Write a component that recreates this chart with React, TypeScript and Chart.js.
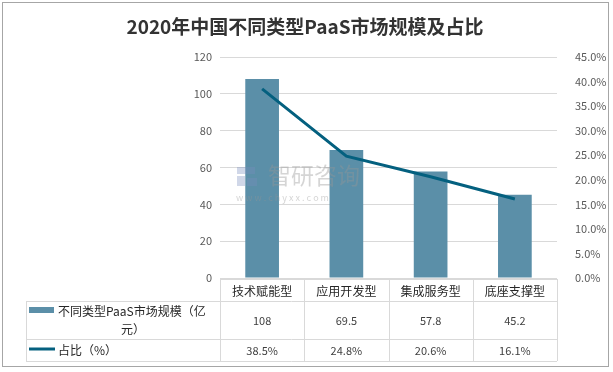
import React, { useEffect, useRef } from "react";
import { Chart, registerables } from "chart.js";

Chart.register(...registerables);

const title = "2020年中国不同类型PaaS市场规模及占比";
const categories = ["技术赋能型", "应用开发型", "集成服务型", "底座支撑型"];
const scaleValues = [108, 69.5, 57.8, 45.2];
const shareValues = [38.5, 24.8, 20.6, 16.1];
const barLabel = "不同类型PaaS市场规模（亿元）";
const lineLabel = "占比（%）";

const BAR_COLOR = "#5b8fa8";
const LINE_COLOR = "#04607f";
const GRID = "#d9d9d9";
const FONT = "'Noto Sans CJK SC', 'Noto Sans', sans-serif";

const overlay = {
  id: "overlay",
  afterDraw(chart: any) {
    const ctx = chart.ctx as CanvasRenderingContext2D;
    const xs = chart.scales.x;
    const area = chart.chartArea;
    ctx.save();
    // outer border
    ctx.strokeStyle = "#a6a6a6";
    ctx.lineWidth = 1;
    ctx.strokeRect(2.5, 2.5, 606, 364);
    // title
    ctx.fillStyle = "#333333";
    ctx.font = `bold 19px ${FONT}`;
    ctx.textAlign = "center";
    ctx.textBaseline = "middle";
    ctx.fillText(title, 305, 27);

    // watermark
    ctx.fillStyle = "rgba(150,150,150,0.4)";
    ctx.font = `23px ${FONT}`;
    ctx.textAlign = "left";
    ctx.fillText("智研咨询", 268, 175);
    ctx.font = `9px ${FONT}`;
    ctx.fillText("w w w . c h y x x . c o m", 236, 198);
    ctx.fillStyle = "rgba(120,140,190,0.35)";
    ctx.fillRect(237, 167, 18, 7);
    ctx.fillRect(237, 176, 8, 10);
    ctx.fillRect(247, 178, 10, 8);

    // table
    const n = categories.length;
    const left = area.left;
    const right = area.right;
    const colW = (right - left) / n;
    const tableLeft = 26;
    const r0 = 279, r1 = 301, r2 = 339, r3 = 361;
    ctx.strokeStyle = GRID;
    ctx.lineWidth = 1;
    ctx.beginPath();
    ctx.moveTo(left, r0 + 0.5); ctx.lineTo(right, r0 + 0.5);
    ctx.moveTo(tableLeft, r1 + 0.5); ctx.lineTo(right, r1 + 0.5);
    ctx.moveTo(tableLeft, r2 + 0.5); ctx.lineTo(right, r2 + 0.5);
    ctx.moveTo(tableLeft, r3 + 0.5); ctx.lineTo(right, r3 + 0.5);
    ctx.moveTo(tableLeft + 0.5, r1); ctx.lineTo(tableLeft + 0.5, r3);
    for (let i = 0; i <= n; i++) {
      const x = Math.round(left + colW * i) + 0.5;
      ctx.moveTo(x, r0); ctx.lineTo(x, r3);
    }
    ctx.stroke();

    ctx.textAlign = "center";
    ctx.textBaseline = "middle";
    for (let i = 0; i < n; i++) {
      const cx = xs.getPixelForValue(i);
      ctx.fillStyle = "#262626";
      ctx.font = `12px ${FONT}`;
      ctx.fillText(categories[i], cx, (r0 + r1) / 2 + 1);
      ctx.fillStyle = "#404040";
      ctx.font = `11px ${FONT}`;
      ctx.fillText(String(scaleValues[i]), cx, (r1 + r2) / 2 + 1);
      ctx.fillText(shareValues[i].toFixed(1) + "%", cx, (r2 + r3) / 2 + 1);
    }
    // legend keys
    ctx.fillStyle = BAR_COLOR;
    ctx.fillRect(29, 307, 25, 6);
    ctx.strokeStyle = LINE_COLOR;
    ctx.lineWidth = 3;
    ctx.beginPath();
    ctx.moveTo(29, 349); ctx.lineTo(55, 349);
    ctx.stroke();
    ctx.fillStyle = "#262626";
    ctx.font = `12px ${FONT}`;
    ctx.textAlign = "left";
    ctx.fillText(barLabel.slice(0, 14), 58, 311);
    ctx.textAlign = "center";
    ctx.fillText(barLabel.slice(14), 133, 329);
    ctx.textAlign = "left";
    ctx.fillText(lineLabel, 58, 350);
    ctx.restore();
  },
};

export default function App() {
  const ref = useRef<HTMLCanvasElement>(null);
  useEffect(() => {
    document.body.style.margin = "0";
    const chart = new Chart(ref.current!, {
      type: "bar",
      data: {
        labels: categories,
        datasets: [
          {
            type: "line",
            label: lineLabel,
            data: shareValues,
            borderColor: LINE_COLOR,
            backgroundColor: LINE_COLOR,
            borderWidth: 3,
            pointRadius: 0,
            yAxisID: "y1",
            order: 0,
          } as any,
          {
            type: "bar",
            label: barLabel,
            data: scaleValues,
            backgroundColor: BAR_COLOR,
            categoryPercentage: 1,
            barPercentage: 0.4,
            yAxisID: "y",
            order: 1,
          },
        ],
      },
      options: {
        animation: false,
        responsive: false,
        layout: { padding: { left: 190, right: 6, top: 57, bottom: 94 } },
        plugins: { legend: { display: false }, tooltip: { enabled: false } },
        scales: {
          x: { display: false },
          y: {
            position: "left",
            min: 0,
            max: 120,
            ticks: { stepSize: 20, color: "#595959", font: { size: 11, family: FONT }, padding: 8 },
            grid: { color: GRID, drawTicks: false },
            border: { display: false },
            afterFit: (s: any) => { s.width = 30; },
          },
          y1: {
            position: "right",
            min: 0,
            max: 45,
            ticks: {
              stepSize: 5,
              color: "#595959",
              font: { size: 11, family: FONT },
              padding: 10,
              callback: (v: any) => Number(v).toFixed(1) + "%",
            },
            grid: { display: false },
            border: { display: false },
            afterFit: (s: any) => { s.width = 50; },
          },
        },
      },
      plugins: [overlay],
    });
    return () => chart.destroy();
  }, []);
  return (
    <div style={{ width: 613, height: 372, background: "#fff" }}>
      <canvas ref={ref} width={613} height={372} />
    </div>
  );
}
